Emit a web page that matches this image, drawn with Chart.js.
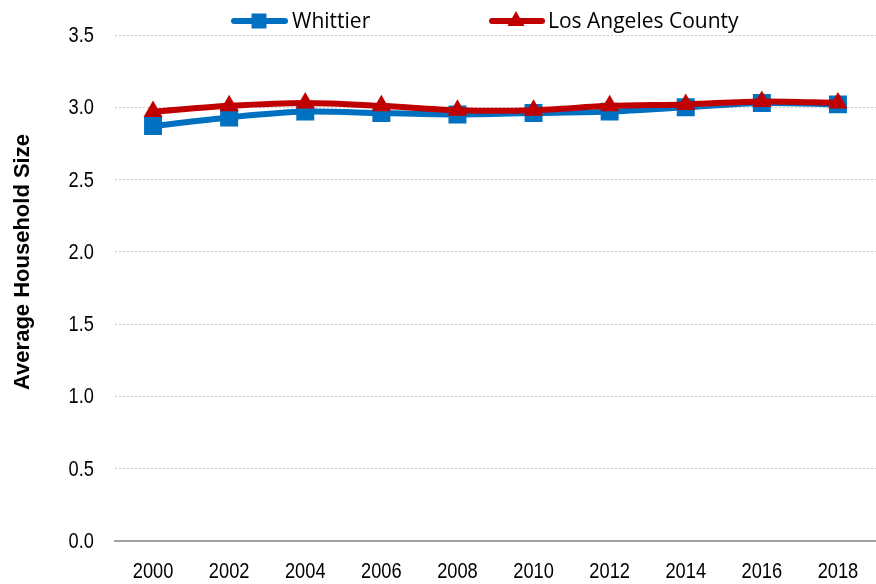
<!DOCTYPE html>
<html>
<head>
<meta charset="utf-8">
<script src="https://cdn.jsdelivr.net/npm/chart.js@4/dist/chart.umd.min.js"></script>
<style>
html,body{margin:0;padding:0;background:#fff;}
#wrap{width:876px;height:584px;position:relative;}
</style>
</head>
<body>
<div id="wrap"><canvas id="c" width="876" height="584"></canvas></div>
<script>
const years = ['2000','2002','2004','2006','2008','2010','2012','2014','2016','2018'];
const whittier = [2.87, 2.93, 2.97, 2.96, 2.95, 2.96, 2.97, 3.00, 3.03, 3.02];
const laCounty = [2.97, 3.01, 3.03, 3.01, 2.98, 2.98, 3.01, 3.02, 3.04, 3.03];
const yTickLabels = ['0.0','0.5','1.0','1.5','2.0','2.5','3.0','3.5'];
const seriesNames = ['Whittier', 'Los Angeles County'];
const yTitle = 'Average Household Size';

const BLUE = '#0070C0';
const RED = '#C00000';
const NARROW = 0.83;
const TICK_FONT = '22px "Liberation Sans", Arial, sans-serif';

function narrowText(ctx, text, x, y, align) {
  ctx.save();
  ctx.translate(x, y);
  ctx.scale(NARROW, 1);
  ctx.textAlign = align;
  ctx.fillText(text, 0, 0);
  ctx.restore();
}

const textPlugin = {
  id: 'axisText',
  afterDraw(chart) {
    const ctx = chart.ctx;
    const xs = chart.scales.x, ys = chart.scales.y;
    ctx.save();
    ctx.fillStyle = '#000';
    ctx.font = TICK_FONT;
    ctx.textBaseline = 'middle';
    yTickLabels.forEach(t => {
      narrowText(ctx, t, 94, ys.getPixelForValue(parseFloat(t)) + 1, 'right');
    });
    years.forEach((yr, i) => {
      narrowText(ctx, yr, xs.getPixelForValue(i), 572, 'center');
    });
    // y title
    ctx.save();
    ctx.translate(23, 262);
    ctx.rotate(-Math.PI / 2);
    ctx.font = 'bold 22px "Liberation Sans", Arial, sans-serif';
    ctx.textAlign = 'center';
    ctx.fillText(yTitle, 0, 0);
    ctx.restore();

    // legend
    const items = [
      {x1: 231, x2: 288, mx: 259, color: BLUE, style: 'rect', tx: 292, label: seriesNames[0]},
      {x1: 489, x2: 545, mx: 516, color: RED, style: 'triangle', tx: 548, label: seriesNames[1]}
    ];
    const y = 21;
    items.forEach(it => {
      ctx.strokeStyle = it.color;
      ctx.lineWidth = 6;
      ctx.lineCap = 'round';
      ctx.beginPath();
      ctx.moveTo(it.x1 + 3, y);
      ctx.lineTo(it.x2 - 3, y);
      ctx.stroke();
      ctx.fillStyle = it.color;
      ctx.beginPath();
      if (it.style === 'rect') {
        ctx.rect(it.mx - 7.5, y - 7.5, 15, 15);
      } else {
        ctx.moveTo(it.mx, y - 10);
        ctx.lineTo(it.mx + 8.5, y + 5);
        ctx.lineTo(it.mx - 8.5, y + 5);
        ctx.closePath();
      }
      ctx.fill();
      ctx.fillStyle = '#000';
      ctx.font = '21px "Open Sans", "Liberation Sans", sans-serif';
      ctx.textBaseline = 'middle';
      ctx.textAlign = 'left';
      ctx.fillText(it.label, it.tx, y + 1);
    });
    ctx.restore();
  }
};

new Chart(document.getElementById('c'), {
  type: 'line',
  data: {
    labels: years,
    datasets: [
      {
        label: seriesNames[0],
        data: whittier,
        order: 2,
        borderColor: BLUE,
        backgroundColor: BLUE,
        borderWidth: 6,
        tension: 0.3,
        pointStyle: 'rect',
        pointRadius: 12.7,
        pointBorderWidth: 0,
        pointHoverRadius: 12.7
      },
      {
        label: seriesNames[1],
        data: laCounty,
        order: 1,
        borderColor: RED,
        backgroundColor: RED,
        borderWidth: 6,
        tension: 0.3,
        pointStyle: 'triangle',
        pointRadius: 11,
        pointBorderWidth: 0,
        pointHoverRadius: 11
      }
    ]
  },
  options: {
    responsive: false,
    animation: false,
    events: [],
    layout: {autoPadding: false, padding: {top: 35, right: 0, left: 0, bottom: 0}},
    plugins: {
      legend: {display: false},
      tooltip: {enabled: false}
    },
    scales: {
      x: {
        offset: true,
        grid: {display: false, drawTicks: false},
        border: {display: true, color: '#A0A0A0', width: 2},
        ticks: {display: false},
        afterFit(s) { s.height = 43; }
      },
      y: {
        min: 0,
        max: 3.5,
        ticks: {stepSize: 0.5, display: false},
        grid: {color: '#C8C8C8', lineWidth: 1, drawTicks: false},
        border: {display: false, dash: [2, 2]},
        afterFit(s) { s.width = 115; }
      }
    }
  },
  plugins: [textPlugin]
});
</script>
</body>
</html>
